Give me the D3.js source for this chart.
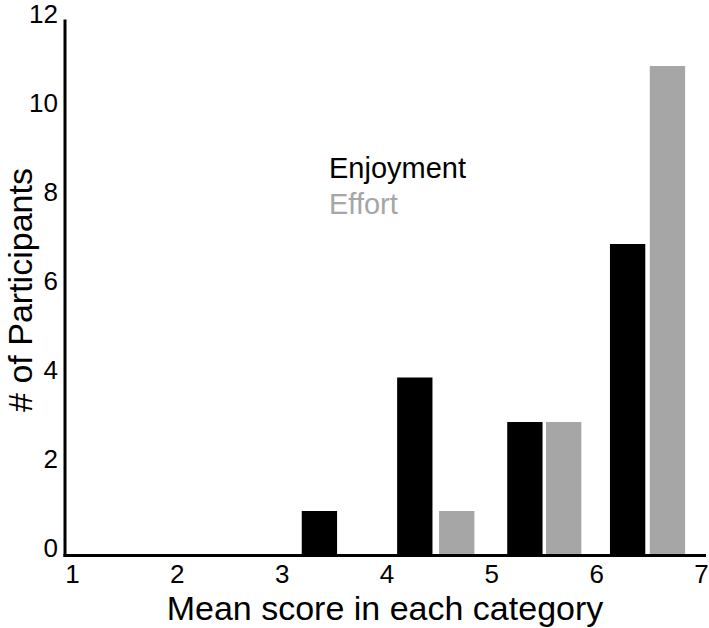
<!DOCTYPE html>
<html>
<head>
<meta charset="utf-8">
<script src="https://cdn.jsdelivr.net/npm/d3@7"></script>
<style>
  html, body { margin: 0; padding: 0; background: #fff; }
  text { font-family: "Liberation Sans", Arial, Helvetica, sans-serif; }
</style>
</head>
<body>
<svg id="chart" width="709" height="628"></svg>
<script>
// Data
const enjoymentX = [3.36, 4.27, 5.32, 6.30];
const enjoymentY = [1, 4, 3, 7];
const effortX = [4.67, 5.69, 6.68];
const effortY = [1, 3, 11];
const xTicks = [1, 2, 3, 4, 5, 6, 7];
const yTicks = [0, 2, 4, 6, 8, 10, 12];
const seriesNames = ["Enjoyment", "Effort"];
const seriesColors = ["#000000", "#a6a6a6"];
const barWidth = 0.337;

const svg = d3.select("#chart");
const x = d3.scaleLinear().domain([1, 7]).range([72, 701]);
const y = d3.scaleLinear().domain([0, 12]).range([555.5, 21.5]);

function drawBars(xs, ys, color) {
  svg.append("g").selectAll("rect")
    .data(xs.map((c, i) => ({ c, v: ys[i] })))
    .join("rect")
    .attr("x", d => x(d.c - barWidth / 2))
    .attr("width", d => x(d.c + barWidth / 2) - x(d.c - barWidth / 2))
    .attr("y", d => y(d.v))
    .attr("height", d => y(0) - y(d.v))
    .attr("fill", color);
}
drawBars(enjoymentX, enjoymentY, seriesColors[0]);
drawBars(effortX, effortY, seriesColors[1]);

// Axis lines
const axisX = 65;
svg.append("line")
  .attr("x1", axisX).attr("x2", axisX)
  .attr("y1", y(12) - 2).attr("y2", y(0) + 1.5)
  .attr("stroke", "#000").attr("stroke-width", 3);
svg.append("line")
  .attr("x1", axisX - 1.5).attr("x2", x(7) + 5)
  .attr("y1", y(0)).attr("y2", y(0))
  .attr("stroke", "#000").attr("stroke-width", 3);

// Y tick labels
const yAxis = svg.append("g")
  .attr("transform", `translate(${axisX},-7)`)
  .call(d3.axisLeft(y).tickValues(yTicks).tickSize(0).tickPadding(7).tickFormat(d3.format("d")));
yAxis.select(".domain").remove();
yAxis.selectAll("text").attr("font-size", 26).attr("fill", "#000")
  .style("font-family", '"Liberation Sans", Arial, sans-serif');

// X tick labels
const xAxis = svg.append("g")
  .attr("transform", `translate(0,${y(0)})`)
  .call(d3.axisBottom(x).tickValues(xTicks).tickSize(0).tickPadding(9).tickFormat(d3.format("d")));
xAxis.select(".domain").remove();
xAxis.selectAll("text").attr("font-size", 26).attr("fill", "#000")
  .style("font-family", '"Liberation Sans", Arial, sans-serif');

// Axis titles
svg.append("text")
  .attr("x", 385).attr("y", 620)
  .attr("text-anchor", "middle")
  .attr("font-size", 34)
  .text("Mean score in each category");

svg.append("text")
  .attr("transform", "translate(32,290) rotate(-90)")
  .attr("text-anchor", "middle")
  .attr("font-size", 34)
  .text("# of Participants");

// Legend
svg.append("g").selectAll("text")
  .data(seriesNames)
  .join("text")
  .attr("x", 329)
  .attr("y", (d, i) => 178 + i * 36)
  .attr("font-size", 29)
  .attr("fill", (d, i) => seriesColors[i])
  .text(d => d);
</script>
</body>
</html>
